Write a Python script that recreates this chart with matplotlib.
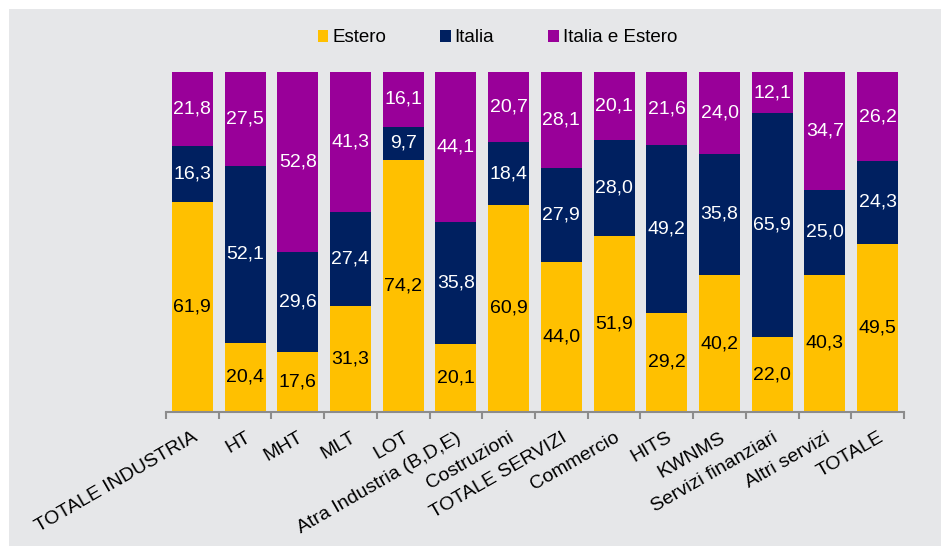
import numpy as np
import matplotlib.pyplot as plt
from matplotlib.patches import Rectangle

plt.rcParams['font.family'] = ['Liberation Sans', 'DejaVu Sans']

categories = ['TOTALE INDUSTRIA', 'HT', 'MHT', 'MLT', 'LOT', 'Atra Industria (B,D,E)',
              'Costruzioni', 'TOTALE SERVIZI', 'Commercio', 'HITS', 'KWNMS',
              'Servizi finanziari', 'Altri servizi', 'TOTALE']
estero = [61.9, 20.4, 17.6, 31.3, 74.2, 20.1, 60.9, 44.0, 51.9, 29.2, 40.2, 22.0, 40.3, 49.5]
italia = [16.3, 52.1, 29.6, 27.4, 9.7, 35.8, 18.4, 27.9, 28.0, 49.2, 35.8, 65.9, 25.0, 24.3]
italia_estero = [21.8, 27.5, 52.8, 41.3, 16.1, 44.1, 20.7, 28.1, 20.1, 21.6, 24.0, 12.1, 34.7, 26.2]

series = [('Estero', estero, '#FFC000', 'black'),
          ('Italia', italia, '#002060', 'white'),
          ('Italia e Estero', italia_estero, '#990099', 'white')]

bg = '#E6E7E9'
fig = plt.figure(figsize=(9.41, 5.46), dpi=100)
fig.patches.append(Rectangle((9 / 941, 0), 1, 1 - 9 / 546, transform=fig.transFigure,
                             facecolor=bg, edgecolor='none', zorder=-10))
ax = fig.add_axes([166 / 941, 1 - 412 / 546, 738 / 941, 340 / 546])
ax.set_facecolor(bg)

# stacked bars with the value written inside each segment
x = np.arange(len(categories))
bottom = np.zeros(len(categories))
for name, vals, color, txt in series:
    vals = np.array(vals)
    ax.bar(x, vals, width=0.78, bottom=bottom, color=color, label=name, edgecolor='none')
    for xi, b, v in zip(x, bottom, vals):
        ax.text(xi, b + v / 2, f'{v:.1f}'.replace('.', ','), ha='center', va='center',
                color=txt, fontsize=14)
    bottom += vals

ax.set_xlim(-0.5, len(categories) - 0.5)
ax.set_ylim(0, 100)
for s in ['top', 'right', 'left']:
    ax.spines[s].set_visible(False)
ax.spines['bottom'].set_color('#8C8C8C')
ax.spines['bottom'].set_linewidth(1.5)
ax.set_yticks([])
ax.set_xticks(np.arange(len(categories) + 1) - 0.5)
ax.set_xticklabels([])
ax.tick_params(axis='x', length=5, width=1.5, color='#8C8C8C')
for xi, lab in zip(x, categories):
    ax.text(xi, -5, lab, rotation=30, ha='right', va='top', rotation_mode='anchor',
            fontsize=14, color='black')

ax.legend(loc='center', bbox_to_anchor=(0.5 + 27 / 941, 1 - 38 / 546),
          bbox_transform=fig.transFigure, ncol=3, frameon=False, fontsize=13.5,
          handlelength=0.55, handleheight=0.55, columnspacing=2.9, handletextpad=0.2)

fig.savefig('out.png', dpi=100, facecolor='white')
